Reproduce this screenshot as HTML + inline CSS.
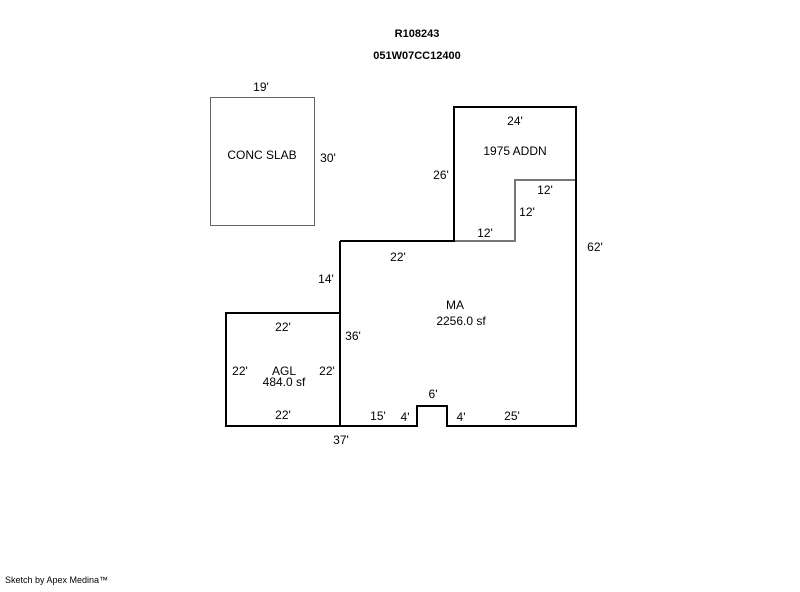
<!DOCTYPE html>
<html><head><style>
body{margin:0;background:#fff}
svg text{font-family:"Liberation Sans",Arial,sans-serif;font-size:12px;fill:#000}
</style></head><body>
<svg width="800" height="587" viewBox="0 0 800 587" xmlns="http://www.w3.org/2000/svg">
<rect width="800" height="587" fill="#fff"/>
<text x="417" y="37" text-anchor="middle" font-weight="bold" style="font-size:11px">R108243</text>
<text x="417" y="59" text-anchor="middle" font-weight="bold" style="font-size:11px">051W07CC12400</text>
<rect x="210.5" y="97.5" width="104" height="128" fill="none" stroke="#666" stroke-width="1"/>
<polyline points="454,241 515,241 515,180 576,180" fill="none" stroke="#777" stroke-width="2"/>
<polyline points="340,241 454,241 454,107 576,107 576,426 447,426 447,406 417,406 417,426 340,426 340,241" fill="none" stroke="#000" stroke-width="2"/>
<rect x="226" y="313" width="114" height="113" fill="none" stroke="#000" stroke-width="2"/>
<g text-anchor="middle">
<text x="261" y="91">19'</text>
<text x="262" y="159">CONC SLAB</text>
<text x="328" y="162">30'</text>
<text x="515" y="125">24'</text>
<text x="515" y="155">1975 ADDN</text>
<text x="441" y="179">26'</text>
<text x="545" y="194">12'</text>
<text x="527" y="216">12'</text>
<text x="485" y="237">12'</text>
<text x="595" y="251">62'</text>
<text x="398" y="261">22'</text>
<text x="326" y="283">14'</text>
<text x="455" y="309">MA</text>
<text x="461" y="325">2256.0 sf</text>
<text x="283" y="331">22'</text>
<text x="353" y="340">36'</text>
<text x="240" y="375">22'</text>
<text x="284" y="375">AGL</text>
<text x="284" y="386">484.0 sf</text>
<text x="327" y="375">22'</text>
<text x="433" y="398">6'</text>
<text x="283" y="419">22'</text>
<text x="378" y="420">15'</text>
<text x="405" y="421">4'</text>
<text x="461" y="421">4'</text>
<text x="512" y="420">25'</text>
<text x="341" y="444">37'</text>
</g>
<text x="5" y="583" style="font-size:9px">Sketch by Apex Medina™</text>
</svg>
</body></html>
